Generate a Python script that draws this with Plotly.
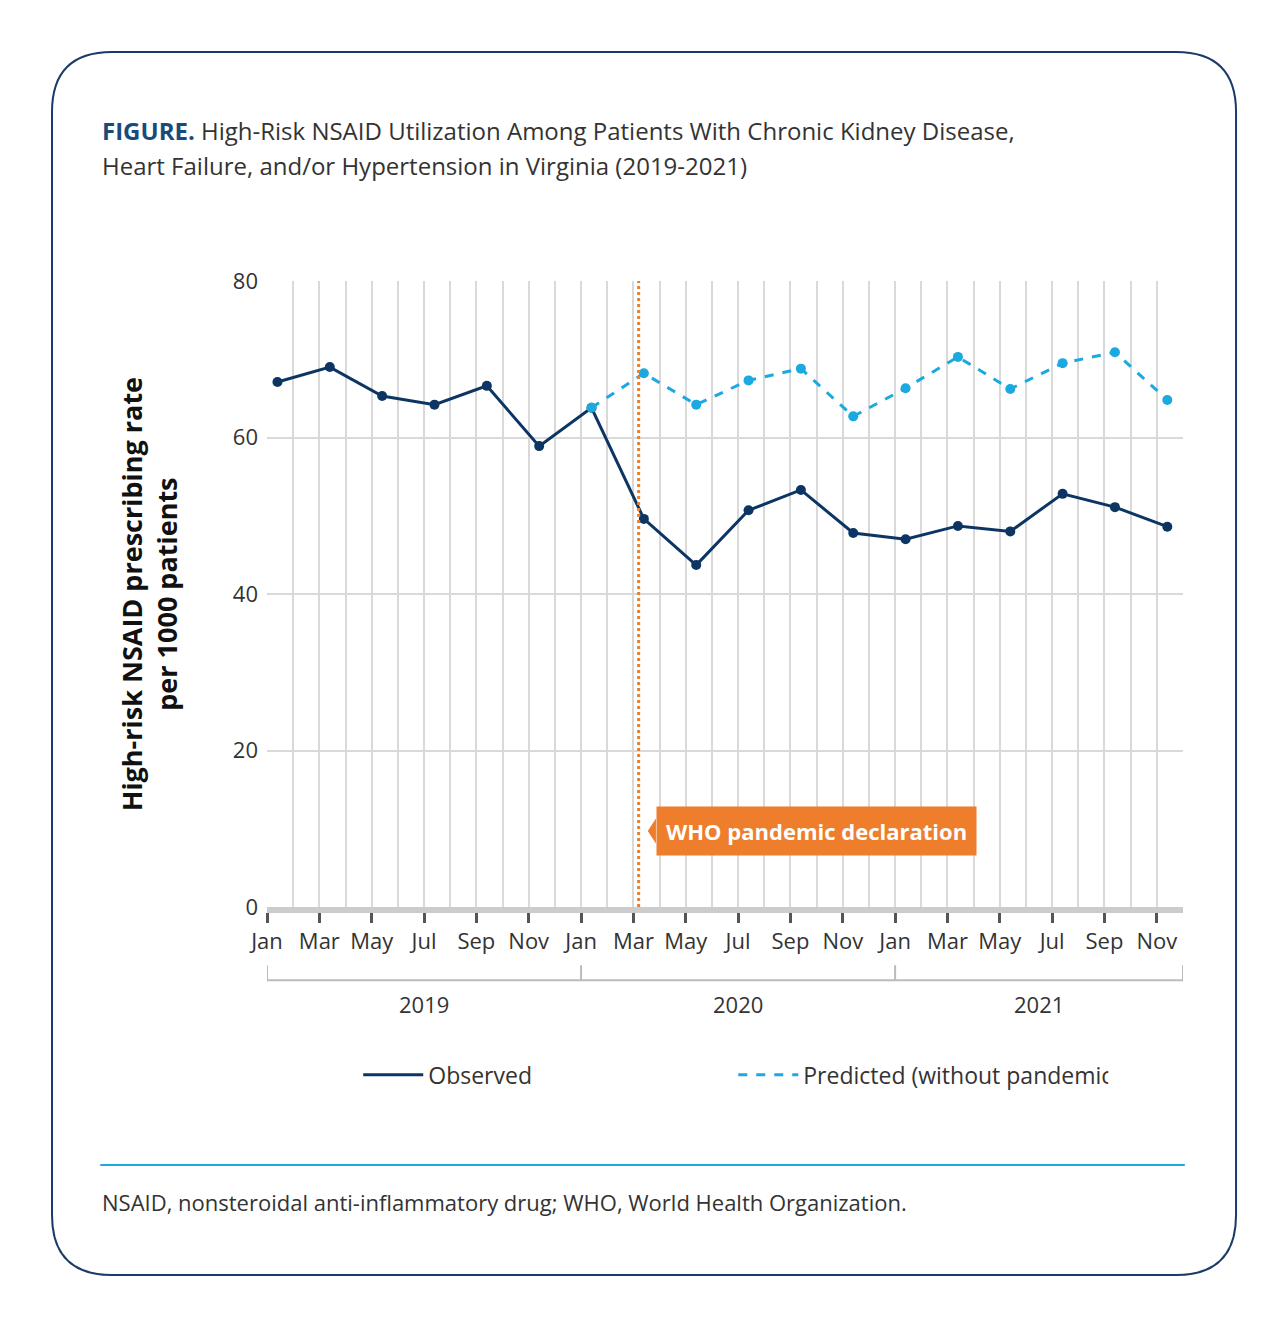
import plotly.graph_objects as go

# bimonthly points, x in months since Jan 2019
obs_x = [0.4 + 2 * i for i in range(18)]
observed = [67.1, 69.0, 65.3, 64.2, 66.6, 58.9, 63.8, 49.6, 43.7, 50.7, 53.3, 47.8,
            47.0, 48.7, 48.0, 52.8, 51.1, 48.6]
pred_x = obs_x[6:]
predicted = [63.8, 68.2, 64.2, 67.3, 68.8, 62.7, 66.3, 70.3, 66.2, 69.5, 70.9, 64.8]

month_ticks = list(range(0, 36, 2))
month_labels = ["Jan", "Mar", "May", "Jul", "Sep", "Nov"] * 3
years = ["2019", "2020", "2021"]
year_pos = [6, 18, 29.5]
pandemic_x = 14.2

DARK = "#0d3563"
LIGHT = "#1ba9e0"
ORANGE = "#ee7d2c"
FONT = "Open Sans"

fig = go.Figure()
fig.add_trace(go.Scatter(x=obs_x, y=observed, name="Observed", mode="lines+markers",
                         line=dict(color=DARK, width=3), marker=dict(size=10, color=DARK),
                         showlegend=False))
fig.add_trace(go.Scatter(x=pred_x, y=predicted, name="Predicted (without pandemic)",
                         mode="lines+markers", line=dict(color=LIGHT, width=3, dash="dash"),
                         marker=dict(size=10, color=LIGHT), showlegend=False))
# legend entries drawn as plain lines
fig.add_trace(go.Scatter(x=[None], y=[None], name="Observed", mode="lines",
                         line=dict(color=DARK, width=3)))
fig.add_trace(go.Scatter(x=[None], y=[None], name="Predicted (without pandemic)", mode="lines",
                         line=dict(color=LIGHT, width=3, dash="dash")))

shapes = [
    dict(type="line", xref="x", yref="y", x0=pandemic_x, x1=pandemic_x, y0=0, y1=80,
         line=dict(color=ORANGE, width=3, dash="dot")),
    dict(type="path", xref="x", yref="y", path="M 14.55 9.7 L 14.86 11.3 L 14.86 8.1 Z",
         fillcolor=ORANGE, line=dict(width=0)),
    # year bracket
    dict(type="line", xref="x", yref="paper", x0=0, x1=35, y0=-0.117, y1=-0.117,
         line=dict(color="#bbbbbb", width=2)),
    dict(type="line", xref="paper", yref="paper", x0=-0.182, x1=1.002, y0=-0.412, y1=-0.412,
         line=dict(color=LIGHT, width=2)),
]
for xb in [0, 12, 24, 35]:
    shapes.append(dict(type="line", xref="x", yref="paper", x0=xb, x1=xb, y0=-0.093, y1=-0.117,
                       line=dict(color="#bbbbbb", width=2)))

# rounded border
x0, x1, y0, y1 = -0.2347, 1.0579, -0.5879, 1.3658
rx, ry = 0.0655, 0.0958
border = (f"M {x0+rx} {y1} L {x1-rx} {y1} Q {x1} {y1} {x1} {y1-ry} "
          f"L {x1} {y0+ry} Q {x1} {y0} {x1-rx} {y0} L {x0+rx} {y0} "
          f"Q {x0} {y0} {x0} {y0+ry} L {x0} {y1-ry} Q {x0} {y1} {x0+rx} {y1} Z")
shapes.append(dict(type="path", xref="paper", yref="paper", path=border,
                   line=dict(color="#1a3a6a", width=2)))

annotations = [
    dict(x=14.85, y=9.7, xref="x", yref="y", xanchor="left", showarrow=False,
         text="<b>WHO pandemic declaration</b>", bgcolor=ORANGE, borderpad=9,
         font=dict(color="white", size=22, family=FONT)),
    dict(x=-0.182, y=1.241, xref="paper", yref="paper", xanchor="left", yanchor="middle",
         showarrow=False, align="left",
         text="<b><span style='color:#1a4a7a'>FIGURE.</span></b> High-Risk NSAID Utilization Among Patients With Chronic Kidney Disease,",
         font=dict(size=24, color="#333", family=FONT)),
    dict(x=-0.182, y=1.184, xref="paper", yref="paper", xanchor="left", yanchor="middle",
         showarrow=False, text="Heart Failure, and/or Hypertension in Virginia (2019-2021)",
         font=dict(size=24, color="#333", family=FONT)),
    dict(x=-0.17, y=0.5, xref="paper", yref="paper", showarrow=False, textangle=-90,
         text="<b>High-risk NSAID prescribing rate<br>per 1000 patients</b>",
         font=dict(size=27, color="#111", family=FONT)),
    dict(x=-0.182, y=-0.471, xref="paper", yref="paper", xanchor="left", yanchor="middle",
         showarrow=False, text="NSAID, nonsteroidal anti-inflammatory drug; WHO, World Health Organization.",
         font=dict(size=22, color="#333", family=FONT)),
]
for yr, xp in zip(years, year_pos):
    annotations.append(dict(x=xp, y=-0.155, xref="x", yref="paper", yanchor="middle",
                            showarrow=False, text=yr,
                            font=dict(size=22, color="#333", family=FONT)))

fig.update_layout(
    width=1288, height=1328,
    margin=dict(l=259, r=113, t=273, b=429),
    plot_bgcolor="white", paper_bgcolor="white",
    font=dict(family=FONT, size=22, color="#333"),
    showlegend=True,
    legend=dict(orientation="h", x=0.509, y=-0.268, xanchor="center", yanchor="middle",
                font=dict(size=23), entrywidth=300, itemwidth=60),
    shapes=shapes, annotations=annotations,
)
fig.update_xaxes(range=[0, 35], tickvals=month_ticks, ticktext=month_labels,
                 showgrid=True, gridcolor="#d9d9d9", gridwidth=1.5,
                 minor=dict(dtick=1, tick0=0, showgrid=True, gridcolor="#d9d9d9", gridwidth=1.5),
                 ticks="outside", ticklen=10, tickwidth=3, tickcolor="#555",
                 showline=True, linecolor="#cccccc", linewidth=6, zeroline=False,
                 tickfont=dict(size=22, color="#333"))
fig.update_yaxes(range=[0, 80], tickvals=[0, 20, 40, 60, 80], showgrid=True,
                 gridcolor="#d9d9d9", gridwidth=1.5, zeroline=False, ticks="",
                 ticklabelstandoff=8, tickfont=dict(size=22, color="#333"))

fig.write_html("out.html")
